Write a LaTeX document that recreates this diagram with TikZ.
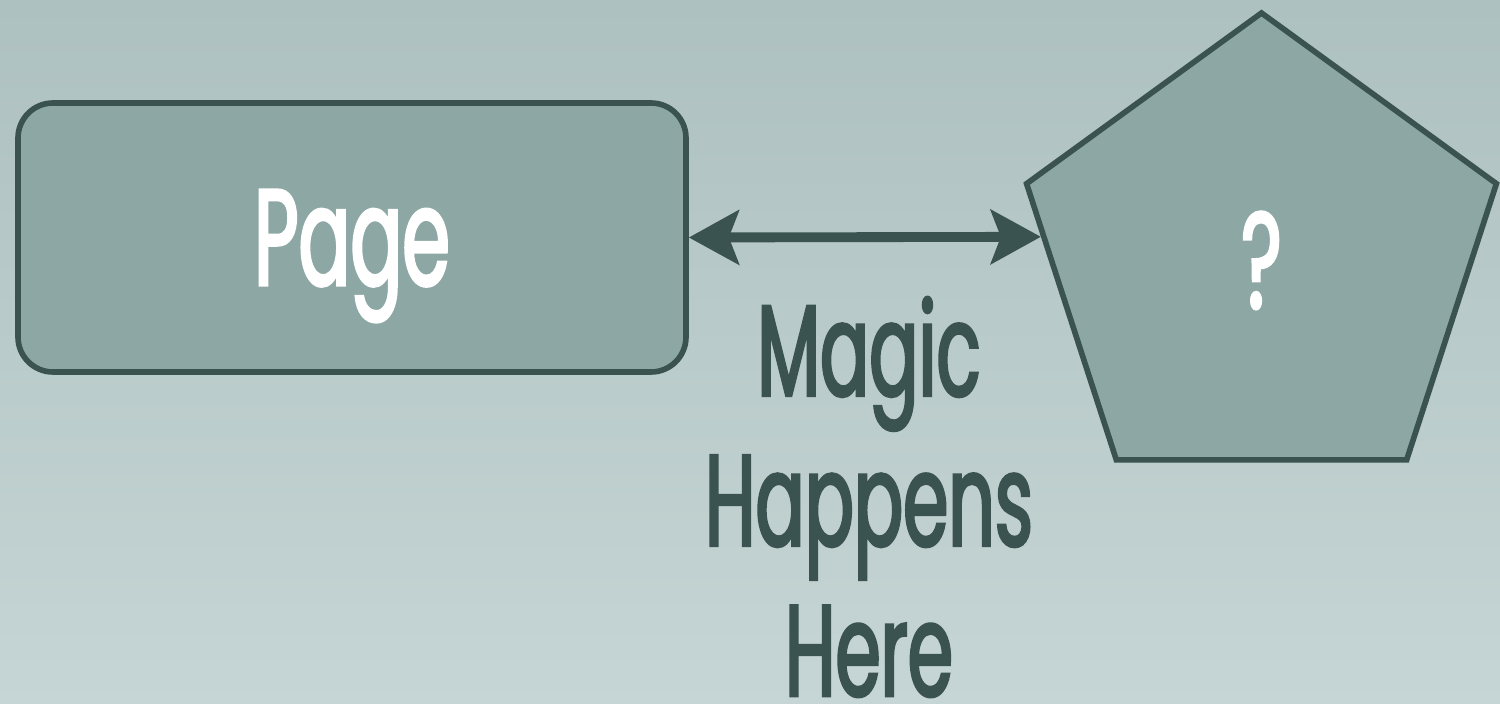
\documentclass[tikz,border=0pt]{standalone}
\usepackage{fontspec}
\setmainfont[FakeStretch=0.56, FakeBold=2]{Poppins}
\usepackage{tikz}
\usetikzlibrary{shapes.geometric, arrows.meta, positioning}

\definecolor{slate}{HTML}{3A5250}
\definecolor{boxfill}{HTML}{8DA8A4}
\definecolor{bgtop}{HTML}{ADC1C0}
\definecolor{bgbottom}{HTML}{C6D5D5}

\begin{document}
\begin{tikzpicture}[
    shape box/.style={draw=slate, fill=boxfill, line width=1.6pt},
    biarrow/.style={{Stealth[length=5mm, width=5.4mm, inset=1mm]}-{Stealth[length=5mm, width=5.4mm, inset=1mm]},
        line width=2.8pt, draw=slate},
    every node/.style={font=\fontsize{39}{47}\selectfont}
]
% Background
\shade[top color=bgtop, bottom color=bgbottom] (0,0) rectangle (15,7.04);
\useasboundingbox (0,0) rectangle (15,7.04);

% Page box
\node[shape box, rounded corners=0.35cm, minimum width=6.68cm, minimum height=2.69cm,
      text=white, text depth=0pt] (page) at (3.52,4.665) {Page};

% Unknown side
\node[shape box, regular polygon, regular polygon sides=5, minimum size=4.94cm,
      inner sep=0pt, text=white, text depth=0pt] (unknown) at (12.615,4.44) {?};

\draw[biarrow] (page.east) -- (unknown.174);

% Label below the arrow (anchored on the last baseline)
\node[anchor=base, align=center, text=slate,
      font=\fontsize{37}{42.7}\selectfont] (magic) at (8.69,0.08) {Magic\\Happens\\Here};
\end{tikzpicture}
\end{document}
